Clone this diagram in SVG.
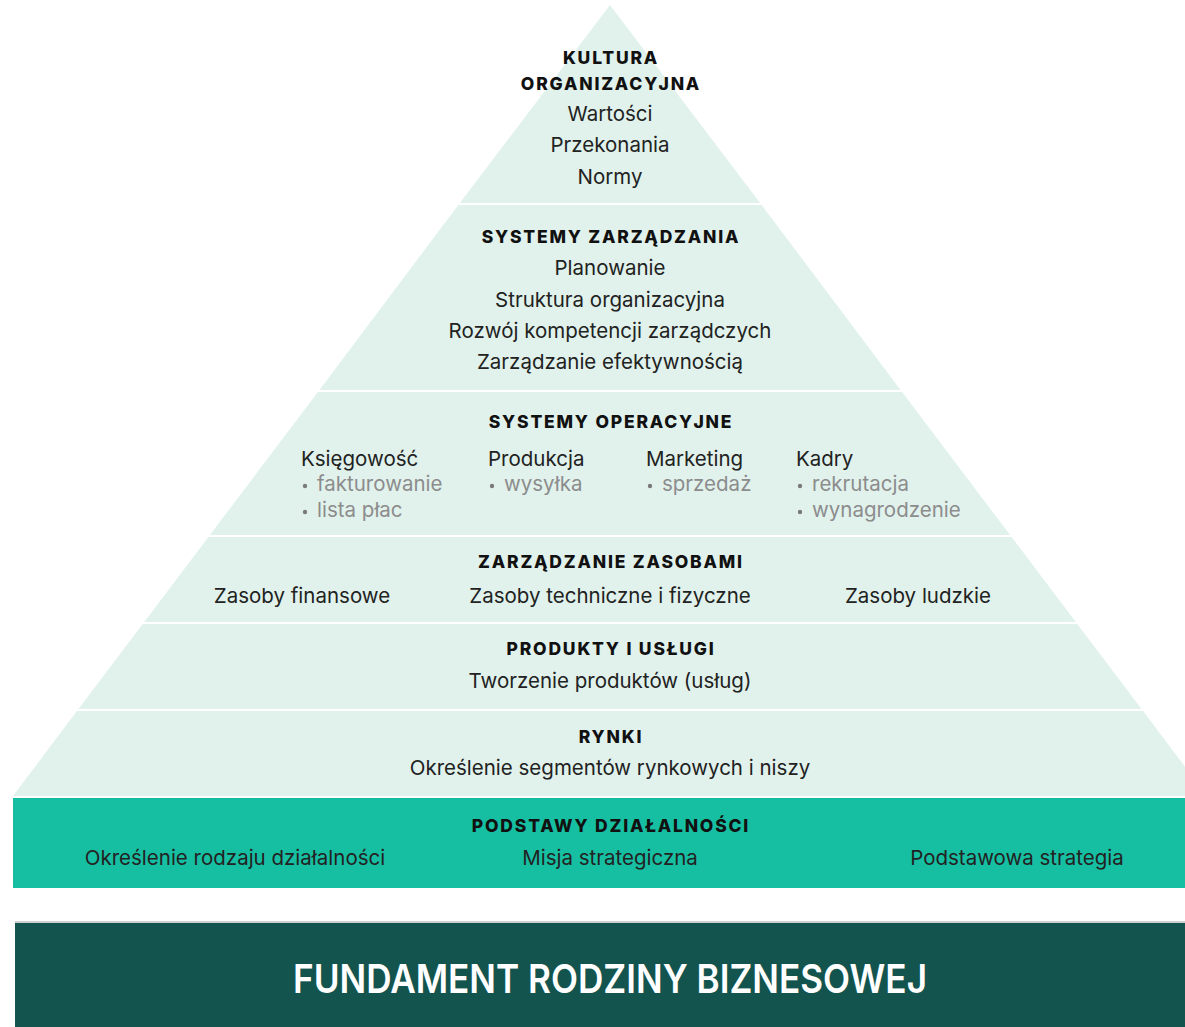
<svg xmlns="http://www.w3.org/2000/svg" width="1185" height="1027" viewBox="0 0 1185 1027">
<style>
.band{fill:#e1f2ec}
.h{font-family:Inter,"Liberation Sans",sans-serif;font-weight:800;font-size:17.5px;letter-spacing:1.8px;fill:#111;text-anchor:middle}
.t{font-family:Inter,"Liberation Sans",sans-serif;font-size:20.5px;fill:#222;text-anchor:middle}
.l{font-family:Inter,"Liberation Sans",sans-serif;font-size:20.5px;fill:#222}
.g{font-family:Inter,"Liberation Sans",sans-serif;font-size:20.5px;fill:#8c8c8c}
.dot{fill:#7a7a7a}
</style>
<rect width="1185" height="1027" fill="#ffffff"/>
<g id="kultura">
<polygon class="band" points="610,5 760.2,203 459.8,203"/>
<text class="h" x="611" y="64">KULTURA</text>
<text class="h" x="611" y="90">ORGANIZACYJNA</text>
<text class="t" x="610" y="121">Wartości</text>
<text class="t" x="610" y="152">Przekonania</text>
<text class="t" x="610" y="184">Normy</text>
</g>
<g id="systemy-zarzadzania">
<polygon class="band" points="458.3,205 761.7,205 900.6,390 319.4,390"/>
<text class="h" x="611" y="243">SYSTEMY ZARZĄDZANIA</text>
<text class="t" x="610" y="275">Planowanie</text>
<text class="t" x="610" y="307">Struktura organizacyjna</text>
<text class="t" x="610" y="338">Rozwój kompetencji zarządczych</text>
<text class="t" x="610" y="369">Zarządzanie efektywnością</text>
</g>
<g id="systemy-operacyjne">
<polygon class="band" points="317.9,392 902.1,392 1010.1,535 209.9,535"/>
<text class="h" x="611" y="428">SYSTEMY OPERACYJNE</text>
<text class="l" x="301" y="466">Księgowość</text>
<circle class="dot" cx="305" cy="486" r="2.2"/><text class="g" x="317" y="491">fakturowanie</text>
<circle class="dot" cx="305" cy="512" r="2.2"/><text class="g" x="317" y="517">lista płac</text>
<text class="l" x="488" y="466">Produkcja</text>
<circle class="dot" cx="492" cy="486" r="2.2"/><text class="g" x="504" y="491">wysyłka</text>
<text class="l" x="646" y="466">Marketing</text>
<circle class="dot" cx="650" cy="486" r="2.2"/><text class="g" x="662" y="491">sprzedaż</text>
<text class="l" x="796" y="466">Kadry</text>
<circle class="dot" cx="800" cy="486" r="2.2"/><text class="g" x="812" y="491">rekrutacja</text>
<circle class="dot" cx="800" cy="512" r="2.2"/><text class="g" x="812" y="517">wynagrodzenie</text>
</g>
<g id="zarzadzanie-zasobami">
<polygon class="band" points="208.4,537 1011.6,537 1075.8,622 144.2,622"/>
<text class="h" x="611" y="568">ZARZĄDZANIE ZASOBAMI</text>
<text class="t" x="302" y="603">Zasoby finansowe</text>
<text class="t" x="610" y="603">Zasoby techniczne i fizyczne</text>
<text class="t" x="918" y="603">Zasoby ludzkie</text>
</g>
<g id="produkty-uslugi">
<polygon class="band" points="142.7,624 1077.3,624 1141.6,709 78.4,709"/>
<text class="h" x="611" y="655">PRODUKTY I USŁUGI</text>
<text class="t" x="610" y="688">Tworzenie produktów (usług)</text>
</g>
<g id="rynki">
<polygon class="band" points="76.9,711 1143.1,711 1207,796 13,796"/>
<text class="h" x="611" y="743">RYNKI</text>
<text class="t" x="610" y="775">Określenie segmentów rynkowych i niszy</text>
</g>
<g id="podstawy">
<rect x="13" y="798" width="1172" height="90" fill="#17bfa2"/>
<text class="h" x="611" y="832">PODSTAWY DZIAŁALNOŚCI</text>
<text class="t" x="235" y="865">Określenie rodzaju działalności</text>
<text class="t" x="610" y="865">Misja strategiczna</text>
<text class="t" x="1017" y="865">Podstawowa strategia</text>
</g>
<g id="fundament">
<rect x="15" y="922" width="1170" height="105" fill="#13544f"/>
<line x1="15" y1="922" x2="1185" y2="922" stroke="#cfcfcf" stroke-width="2"/>
<text x="610" y="993" font-family="Inter,'Liberation Sans',sans-serif" font-weight="600" font-size="40" fill="#ffffff" text-anchor="middle" textLength="634" lengthAdjust="spacingAndGlyphs">FUNDAMENT RODZINY BIZNESOWEJ</text>
</g>
<g id="connectors"/>
</svg>
